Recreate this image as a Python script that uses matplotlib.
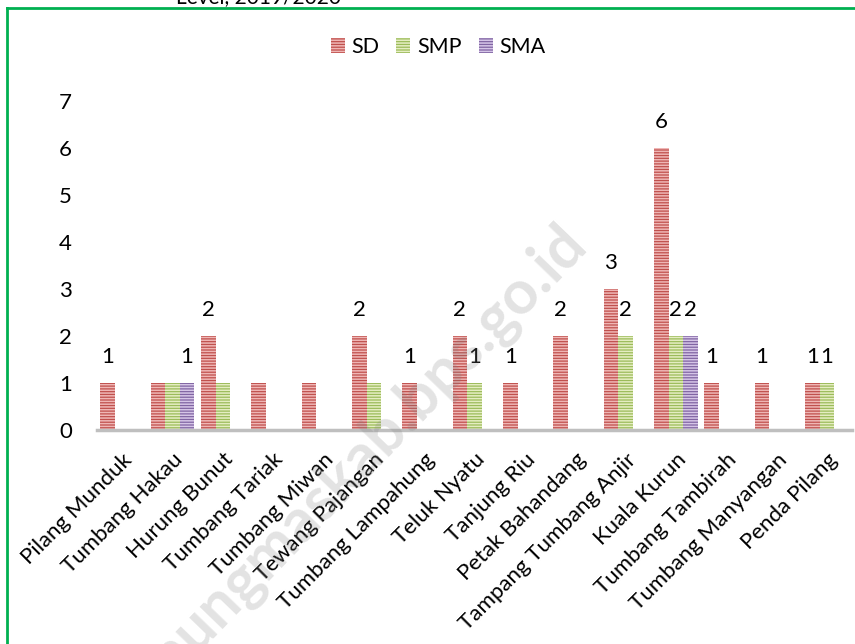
import matplotlib
matplotlib.use("Agg")
import matplotlib.pyplot as plt
import numpy as np
from matplotlib.lines import Line2D
from matplotlib.patches import Patch

plt.rcParams['font.family'] = ['Lato', 'DejaVu Sans']
plt.rcParams['hatch.linewidth'] = 1.1

categories = ["Pilang Munduk", "Tumbang Hakau", "Hurung Bunut", "Tumbang Tariak",
              "Tumbang Miwan", "Tewang Pajangan", "Tumbang Lampahung", "Teluk Nyatu",
              "Tanjung Riu", "Petak Bahandang", "Tampang Tumbang Anjir", "Kuala Kurun",
              "Tumbang Tambirah", "Tumbang Manyangan", "Penda Pilang"]
sd = [1, 1, 2, 1, 1, 2, 1, 2, 1, 2, 3, 6, 1, 1, 1]
smp = [0, 1, 1, 0, 0, 1, 0, 1, 0, 0, 2, 2, 0, 0, 1]
sma = [0, 1, 0, 0, 0, 0, 0, 0, 0, 0, 0, 2, 0, 0, 0]
# which data labels are visible in the reference
sd_lbl = [1, 0, 1, 0, 0, 1, 1, 1, 1, 1, 1, 1, 1, 1, 1]
smp_lbl = [0, 0, 0, 0, 0, 0, 0, 1, 0, 0, 1, 1, 0, 0, 1]
sma_lbl = [0, 1, 0, 0, 0, 0, 0, 0, 0, 0, 0, 1, 0, 0, 0]
series_names = ["SD", "SMP", "SMA"]
title_text = "Level, 2019/2020"
watermark = "gunungmaskab.bps.go.id"

colors = ['#C0504D', '#9BBB59', '#8064A2']
hatch_cols = [(1, 0.85, 0.85, 0.75), (1, 1, 0.9, 0.75), (0.95, 0.9, 1, 0.75)]

fig = plt.figure(figsize=(8.55, 6.44), dpi=100)
ax = fig.add_axes([97/855, 1-430/644, (852-97)/855, (430-101)/644])

x = np.arange(len(categories))
w = 0.29
for i, (vals, lbls) in enumerate([(sd, sd_lbl), (smp, smp_lbl), (sma, sma_lbl)]):
    xs = x + (i - 1) * w
    ax.bar(xs, vals, width=w, color=colors[i], edgecolor=hatch_cols[i],
           linewidth=0, hatch='------', zorder=2)
    for xx, v, show in zip(xs, vals, lbls):
        if show and v > 0:
            ax.annotate(str(v), (xx, v), xytext=(0, 19), textcoords='offset points',
                        ha='center', va='center', fontsize=16, color='black')

ax.set_xlim(-0.5, len(categories) - 0.5)
ax.set_ylim(0, 7)
ax.set_yticks(range(0, 8))
ax.tick_params(axis='y', length=0, labelsize=16, pad=18)
ax.tick_params(axis='x', length=0, pad=14)
ax.set_xticks(x)
ax.set_xticklabels(categories, rotation=45, ha='right', va='top',
                   rotation_mode='anchor', fontsize=16)
for s in ['top', 'right', 'left']:
    ax.spines[s].set_visible(False)
ax.spines['bottom'].set_color('#BFBFBF')
ax.spines['bottom'].set_linewidth(2.5)

handles = [Patch(facecolor=colors[i], edgecolor=hatch_cols[i], linewidth=0,
                 hatch='------') for i in range(3)]
fig.legend(handles, series_names, loc='center', bbox_to_anchor=(438/855, 1-47/644),
           ncol=3, frameon=False, fontsize=15.5, handlelength=0.65, handleheight=0.75,
           handletextpad=0.3, columnspacing=0.8)

fig.text(258/855, 1-3/644, title_text, ha='center', va='baseline', fontsize=15)

# green border
fig.add_artist(Line2D([7/855, 7/855], [0, 1-8/644], color='#00B050', lw=2,
                      transform=fig.transFigure))
fig.add_artist(Line2D([7/855, 1], [1-8/644, 1-8/644], color='#00B050', lw=2,
                      transform=fig.transFigure))

fig.text(345/855, 1-475/644, watermark, rotation=46, ha='center', va='center',
         fontsize=44, fontweight='bold', color='#808080', alpha=0.22, zorder=10,
         rotation_mode='anchor')

fig.savefig('out.png', dpi=100)
